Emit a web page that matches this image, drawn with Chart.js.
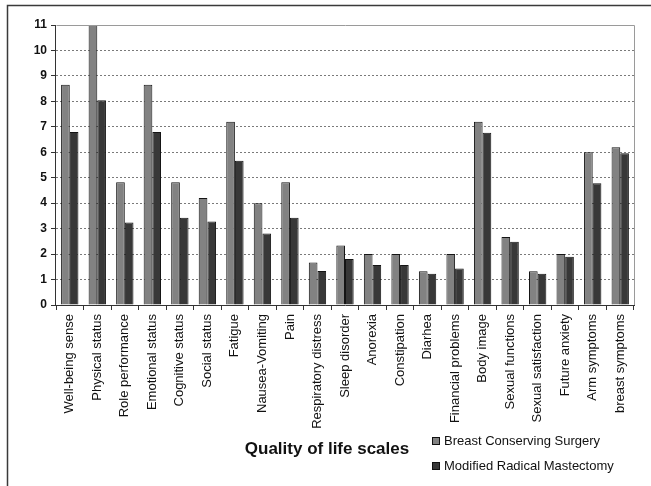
<!DOCTYPE html>
<html>
<head>
<meta charset="utf-8">
<script src="https://cdn.jsdelivr.net/npm/chart.js@4"></script>
<style>
  html, body { margin: 0; padding: 0; background: #fff; }
  #wrap { width: 651px; height: 486px; position: relative; }
</style>
</head>
<body>
<div id="wrap"><canvas id="c" width="651" height="486"></canvas></div>
<script>
// Quality of life scale scores by type of surgery
const categories = [
  'Well-being sense', 'Physical status', 'Role performance', 'Emotional status',
  'Cognitive status', 'Social status', 'Fatigue', 'Nausea-Vomiting', 'Pain',
  'Respiratory distress', 'Sleep disorder', 'Anorexia', 'Constipation', 'Diarhea',
  'Financial problems', 'Body image', 'Sexual functions', 'Sexual satisfaction',
  'Future anxiety', 'Arm symptoms', 'breast symptoms'
];
const seriesNames = ['Breast Conserving Surgery', 'Modified Radical Mastectomy'];
const conservingValues = [8.65, 11.0, 4.82, 8.65, 4.82, 4.2, 7.2, 4.0, 4.82, 1.67,
  2.34, 2.0, 2.0, 1.33, 2.0, 7.2, 2.67, 1.33, 2.0, 6.0, 6.2];
const mastectomyValues = [6.8, 8.04, 3.24, 6.8, 3.43, 3.28, 5.67, 2.81, 3.43, 1.34,
  1.81, 1.57, 1.57, 1.23, 1.43, 6.77, 2.48, 1.23, 1.9, 4.78, 5.96];
const yTicks = [0, 1, 2, 3, 4, 5, 6, 7, 8, 9, 10, 11];
const axisTitle = 'Quality of life scales';

const FONT = "'Liberation Sans', Arial, sans-serif";
const barColors = ['#828282', '#383838'];

// frame around the whole figure, plot box edges, axis title and legend
const decor = {
  id: 'decor',
  beforeDraw(chart) {
    const ctx = chart.ctx;
    ctx.save();
    ctx.fillStyle = '#fff';
    ctx.fillRect(0, 0, chart.width, chart.height);
    ctx.strokeStyle = '#3a3a3a';
    ctx.lineWidth = 1.5;
    ctx.beginPath();
    ctx.moveTo(7.5, chart.height + 2);
    ctx.lineTo(7.5, 5.5);
    ctx.lineTo(chart.width + 2, 5.5);
    ctx.stroke();
    ctx.restore();
  },
  afterDraw(chart) {
    const ctx = chart.ctx;
    const a = chart.chartArea;
    const L = Math.round(a.left) + 0.5;
    const T = Math.round(a.top) + 0.5;
    const R = Math.round(a.right) + 0.5;
    const B = Math.round(a.bottom);
    ctx.save();
    // top and right edges of the plot box
    ctx.strokeStyle = '#9a9a9a';
    ctx.lineWidth = 1;
    ctx.beginPath();
    ctx.moveTo(L, T);
    ctx.lineTo(R, T);
    ctx.lineTo(R, B);
    ctx.stroke();
    // value axis line
    ctx.strokeStyle = '#333';
    ctx.beginPath();
    ctx.moveTo(L - 1, T - 0.5);
    ctx.lineTo(L - 1, B + 0.5);
    ctx.stroke();

    // axis title
    ctx.fillStyle = '#111';
    ctx.font = 'bold 17px ' + FONT;
    ctx.textAlign = 'center';
    ctx.textBaseline = 'middle';
    ctx.fillText(axisTitle, 327, 449);

    // legend
    ctx.font = '13px ' + FONT;
    ctx.textAlign = 'left';
    chart.data.datasets.forEach((ds, i) => {
      const y = 441 + i * 25;
      ctx.fillStyle = ds.backgroundColor;
      ctx.fillRect(433, y - 3, 6, 6);
      ctx.strokeStyle = '#111';
      ctx.lineWidth = 1;
      ctx.strokeRect(432.5, y - 3.5, 7, 7);
      ctx.fillStyle = '#111';
      ctx.fillText(ds.label, 444, y);
    });
    ctx.restore();
  }
};

new Chart(document.getElementById('c'), {
  type: 'bar',
  data: {
    labels: categories,
    datasets: [
      { label: seriesNames[0], data: conservingValues, backgroundColor: barColors[0],
        borderColor: '#151515', borderWidth: 1 },
      { label: seriesNames[1], data: mastectomyValues, backgroundColor: barColors[1],
        borderColor: '#151515', borderWidth: 1 }
    ]
  },
  options: {
    responsive: false,
    animation: false,
    devicePixelRatio: 1,
    layout: { padding: { left: 0, top: 25, right: 17, bottom: 0 } },
    datasets: { bar: { categoryPercentage: 0.63, barPercentage: 1.0 } },
    plugins: {
      legend: { display: false },
      tooltip: { enabled: false },
      title: { display: false }
    },
    scales: {
      x: {
        afterFit(scale) { scale.height = 181; },
        border: { display: true, color: '#333', width: 1 },
        grid: {
          display: true,
          drawOnChartArea: false,
          drawTicks: true,
          tickLength: 5,
          color: '#333',
          offset: true
        },
        ticks: {
          minRotation: 90,
          maxRotation: 90,
          autoSkip: false,
          padding: 4,
          color: '#111',
          font: { family: FONT, size: 13 }
        }
      },
      y: {
        min: 0,
        max: 11,
        afterFit(scale) { scale.width = 56; },
        afterBuildTicks(scale) { scale.ticks = yTicks.map(v => ({ value: v })); },
        // grid lines take their dash from the border settings
        border: { display: false, dash: [2, 2] },
        grid: {
          drawTicks: true,
          tickLength: 5,
          color: ctx => (ctx.tick && (ctx.tick.value === 0 || ctx.tick.value === 11)) ? 'rgba(0,0,0,0)' : '#7a7a7a',
          tickColor: '#333',
          tickBorderDash: [],
          lineWidth: 1
        },
        ticks: {
          padding: 4,
          color: '#111',
          font: { family: FONT, size: 12, weight: 'bold' }
        }
      }
    }
  },
  plugins: [decor]
});
</script>
</body>
</html>
